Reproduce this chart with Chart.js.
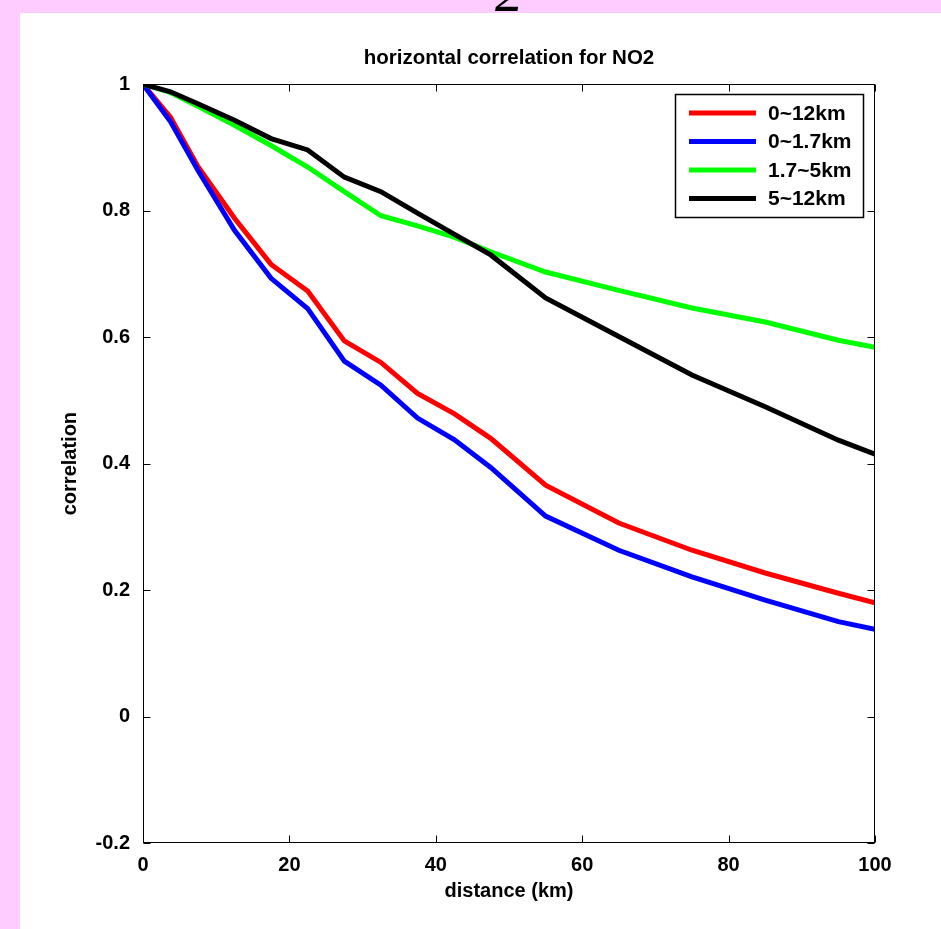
<!DOCTYPE html>
<html lang="en">
<head>
  <meta charset="UTF-8">
  <title>horizontal correlation for NO2</title>
  <style>
    html, body {
      margin: 0;
      padding: 0;
      width: 941px;
      height: 929px;
      overflow: hidden;
      background: #ffccff;
    }

    .fig-number {
      position: absolute;
      left: 495px;
      top: -36px;
      font: italic 56px 'Liberation Serif', serif;
      line-height: 56px;
      color: #000;
    }

    .panel {
      position: absolute;
      left: 20px;
      top: 13px;
      width: 921px;
      height: 916px;
      background: #fff;
    }

    canvas {
      display: block;
    }
  </style>

  <script src="https://cdn.jsdelivr.net/npm/chart.js"></script>
</head>
<body>
  <span class="fig-number">2</span>
  <div class="panel">
    <canvas id="corrChart" width="921" height="916"></canvas>
  </div>

  <script>
    // distance bins (km) and correlation per layer
    const distance = [0, 3.75, 7.5, 12.5, 17.5, 22.5, 27.5, 32.5, 37.5, 42.5, 47.5, 55, 65, 75, 85, 95, 100];
    const corr0to12 = [1, 0.948, 0.870, 0.788, 0.715, 0.673, 0.594, 0.560, 0.511, 0.479, 0.440, 0.366, 0.306, 0.263, 0.227, 0.195, 0.180];
    const corr0to17 = [1, 0.941, 0.864, 0.769, 0.693, 0.645, 0.562, 0.524, 0.472, 0.438, 0.394, 0.317, 0.263, 0.221, 0.184, 0.150, 0.138];
    const corr17to5 = [1, 0.987, 0.965, 0.935, 0.903, 0.869, 0.830, 0.792, 0.776, 0.758, 0.735, 0.703, 0.674, 0.646, 0.624, 0.595, 0.584];
    const corr5to12 = [1, 0.988, 0.969, 0.943, 0.914, 0.896, 0.853, 0.830, 0.796, 0.763, 0.730, 0.662, 0.601, 0.540, 0.490, 0.437, 0.415];

    const seriesNames = ['0~12km', '0~1.7km', '1.7~5km', '5~12km'];
    const seriesColors = ['#ff0000', '#0000ff', '#00ff00', '#000000'];
    const seriesValues = [corr0to12, corr0to17, corr17to5, corr5to12];

    const xTicks = [0, 20, 40, 60, 80, 100];
    const yTicks = [-0.2, 0, 0.2, 0.4, 0.6, 0.8, 1];

    const labelFont = { family: "'Liberation Sans', Arial, sans-serif", size: 20, weight: 'bold' };
    const titleFont = { family: "'Liberation Sans', Arial, sans-serif", size: 20.5, weight: 'bold' };

    function toPoints(values) {
      return distance.map((d, i) => ({ x: d, y: values[i] }));
    }

    // boxed axes with inward ticks on all four sides, and the legend box
    const matlabAxes = {
      id: 'matlabAxes',
      afterDatasetsDraw(chart) {
        const { ctx, chartArea: a, scales } = chart;
        const L = Math.round(a.left) + 0.5, R = Math.round(a.right) - 0.5;
        const T = Math.round(a.top) + 0.5, B = Math.round(a.bottom) - 0.5;
        const tick = 7;
        ctx.save();
        ctx.strokeStyle = '#000';
        ctx.lineWidth = 1;
        ctx.strokeRect(L, T, R - L, B - T);
        ctx.beginPath();
        xTicks.forEach(v => {
          const x = Math.round(scales.x.getPixelForValue(v)) + 0.5;
          ctx.moveTo(x, B); ctx.lineTo(x, B - tick);
          ctx.moveTo(x, T); ctx.lineTo(x, T + tick);
        });
        yTicks.forEach(v => {
          const y = Math.round(scales.y.getPixelForValue(v)) + 0.5;
          ctx.moveTo(L, y); ctx.lineTo(L + tick, y);
          ctx.moveTo(R, y); ctx.lineTo(R - tick, y);
        });
        ctx.stroke();

        // legend
        const boxR = Math.round(a.right) - 12, boxT = Math.round(a.top) + 10;
        const boxW = 188, boxH = 123;
        const boxL = boxR - boxW;
        ctx.fillStyle = '#fff';
        ctx.fillRect(boxL, boxT, boxW, boxH);
        ctx.lineWidth = 1.5;
        ctx.strokeRect(boxL + 0.5, boxT + 0.5, boxW, boxH);
        ctx.font = `bold 21px ${labelFont.family}`;
        ctx.textBaseline = 'middle';
        ctx.textAlign = 'left';
        seriesNames.forEach((name, i) => {
          const y = boxT + 19 + i * 28.5;
          ctx.strokeStyle = seriesColors[i];
          ctx.lineWidth = 5;
          ctx.beginPath();
          ctx.moveTo(boxL + 14, y);
          ctx.lineTo(boxL + 81, y);
          ctx.stroke();
          ctx.fillStyle = '#000';
          ctx.fillText(name, boxL + 93, y + 1);
        });
        ctx.restore();
      }
    };

    const ctx = document.getElementById('corrChart').getContext('2d');
    new Chart(ctx, {
      type: 'line',
      data: {
        datasets: seriesNames.map((name, i) => ({
          label: name,
          data: toPoints(seriesValues[i]),
          borderColor: seriesColors[i],
          backgroundColor: seriesColors[i],
          borderWidth: 5,
          pointRadius: 0,
          tension: 0,
          fill: false,
          order: seriesNames.length - i
        }))
      },
      options: {
        responsive: false,
        animation: false,
        devicePixelRatio: 1,
        layout: { padding: { left: 0, top: 0, right: 66, bottom: 0 } },
        plugins: {
          legend: { display: false },
          tooltip: { enabled: false },
          title: {
            display: true,
            fullSize: false,
            text: 'horizontal correlation for NO2',
            color: '#000',
            font: titleFont,
            padding: { top: 33.5, bottom: 13.1 }
          }
        },
        scales: {
          x: {
            type: 'linear',
            min: 0,
            max: 100,
            afterBuildTicks: s => { s.ticks = xTicks.map(v => ({ value: v })); },
            afterFit: s => { s.height = 86; },
            grid: { display: false, drawTicks: false },
            border: { display: false },
            ticks: { color: '#000', font: labelFont, padding: 10, maxRotation: 0 },
            title: {
              display: true,
              text: 'distance (km)',
              color: '#000',
              font: labelFont,
              padding: { top: 0, bottom: 26 }
            }
          },
          y: {
            type: 'linear',
            min: -0.2,
            max: 1,
            afterBuildTicks: s => { s.ticks = yTicks.map(v => ({ value: v })); },
            afterFit: s => { s.width = 123; },
            grid: { display: false, drawTicks: false },
            border: { display: false },
            ticks: {
              color: '#000',
              font: labelFont,
              padding: 13,
              callback: v => String(Math.round(v * 10) / 10)
            },
            title: {
              display: true,
              text: 'correlation',
              color: '#000',
              font: labelFont,
              padding: { top: 38, bottom: 0 }
            }
          }
        }
      },
      plugins: [matlabAxes]
    });
  </script>
</body>
</html>
